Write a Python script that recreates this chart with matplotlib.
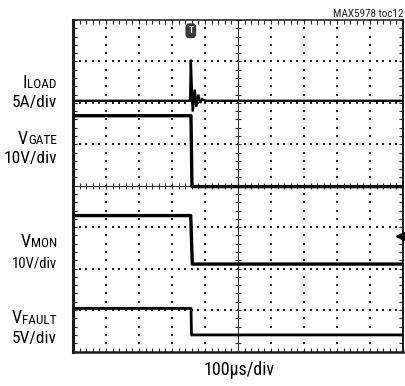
import numpy as np
import matplotlib
matplotlib.use("Agg")
import matplotlib.pyplot as plt
from matplotlib import font_manager

# ---------------- data (time in µs, trace position in screen divisions) -------------
iload_t = [0, 355.0, 357.0, 362.7, 368.8, 373.6, 379.7, 385.8, 391.8, 400.0, 1000]
iload_y = [6.05, 6.05, 7.04, 5.79, 6.32, 5.91, 6.20, 6.00, 6.09, 6.05, 6.05]

vgate_t = [0, 357.5, 360.5, 1000]
vgate_y = [5.69, 5.69, 3.98, 3.98]

vmon_t = [0, 356.7, 361.5, 1000]
vmon_y = [3.28, 3.28, 2.11, 2.11]

vfault_t = [0, 357.6, 359.0, 1000]
vfault_y = [1.04, 1.04, 0.40, 0.40]

trigger_time = 357.0
trigger_level = 2.79

n_xdiv, n_ydiv = 10, 8
us_per_div = 100

labels = [  # (main, small, scale, y_pixel_main, y_pixel_scale, scale_size)
    ("I", "LOAD", "5A/div", 88, 107, 12.5),
    ("V", "GATE", "10V/div", 144, 163, 12.5),
    ("V", "MON", "10V/div", 247, 268, 10.5),
    ("V", "FAULT", "5V/div", 323, 343, 12.5),
]
xlabel = "100µs/div"
tag = "MAX5978 toc12"

# ---------------- fonts ----------------
avail = {f.name for f in font_manager.fontManager.ttflist}
fam = "DejaVu Sans"
for cand in ["Liberation Sans Narrow", "Roboto Condensed", "Arial Narrow", "Liberation Sans"]:
    if cand in avail:
        fam = cand
        break
plt.rcParams["font.family"] = [fam, "DejaVu Sans"]

W, H = 406, 386
fig = plt.figure(figsize=(W / 100, H / 100), dpi=100)
L, R, T, B = 73, 403, 20, 351.5
ax = fig.add_axes([L / W, 1 - B / H, (R - L) / W, (B - T) / H])
ax.set_xlim(0, n_xdiv * us_per_div)
ax.set_ylim(0, n_ydiv)

# border ticks
ax.set_xticks(np.arange(0, n_xdiv + 1) * us_per_div)
ax.set_xticks(np.arange(0, n_xdiv * 5 + 1) * us_per_div / 5, minor=True)
ax.set_yticks(np.arange(0, n_ydiv + 1))
ax.set_yticks(np.arange(0, n_ydiv * 5 + 1) / 5, minor=True)
ax.tick_params(which="both", direction="in", length=3, width=0.8, top=True, right=True,
               labelbottom=False, labelleft=False, colors="#222222")
for side, lw in [("left", 2.2), ("bottom", 1.8), ("top", 1.1), ("right", 1.4)]:
    ax.spines[side].set_linewidth(lw)
    ax.spines[side].set_color("#1a1a1a")

# dotted graticule
sub_x = np.arange(0, n_xdiv * 5 + 1) * us_per_div / 5
sub_y = np.arange(0, n_ydiv * 5 + 1) / 5
for gx in range(1, n_xdiv):
    if gx == n_xdiv // 2:
        continue
    ax.scatter(np.full_like(sub_y, gx * us_per_div), sub_y, s=1.6, marker="s", c="#222222",
               linewidths=0, zorder=1)
for gy in range(1, n_ydiv):
    if gy == n_ydiv // 2:
        continue
    ax.scatter(sub_x, np.full_like(sub_x, gy), s=1.6, marker="s", c="#222222",
               linewidths=0, zorder=1)

# centre crosshair with ticks
cx, cy = n_xdiv // 2 * us_per_div, n_ydiv // 2
ax.axvline(cx, color="#333333", lw=0.8, zorder=1)
ax.axhline(cy, color="#333333", lw=0.8, zorder=1)
ax.plot(sub_x, np.full_like(sub_x, cy), ls="none", marker="|", ms=5, mew=0.8,
        color="#333333", zorder=1)
ax.plot(np.full_like(sub_y, cx), sub_y, ls="none", marker="_", ms=5, mew=0.8,
        color="#333333", zorder=1)

# traces
ax.plot(iload_t, iload_y, color="black", lw=1.7, zorder=3, solid_joinstyle="miter")
ax.plot(vgate_t, vgate_y, color="black", lw=2.4, zorder=3)
ax.plot(vmon_t, vmon_y, color="black", lw=2.4, zorder=3)
ax.plot(vfault_t, vfault_y, color="black", lw=2.0, zorder=3)

# trigger markers
ax.text(trigger_time, 7.74, "T", ha="center", va="center", fontsize=6.5, color="white",
        fontweight="bold", zorder=4,
        bbox=dict(boxstyle="round,pad=0.25,rounding_size=0.35", fc="#3a3a3a", ec="#3a3a3a"))
ax.plot([n_xdiv * us_per_div - 8], [trigger_level], marker="<", ms=5.5, color="black",
        clip_on=False, zorder=4)

# labels
fig.canvas.draw()
rend = fig.canvas.get_renderer()
xr = 57 / W
for main, small, scale, ym, ys, ss in labels:
    t_small = fig.text(xr, 1 - (ym + 0.5) / H, small, ha="right", va="baseline", fontsize=9.5)
    bb = t_small.get_window_extent(renderer=rend)
    fig.text((bb.x0 - 0.3) / W, 1 - ym / H, main, ha="right", va="baseline", fontsize=13)
    fig.text(xr, 1 - ys / H, scale, ha="right", va="baseline", fontsize=ss)

fig.text(239 / W, 1 - 375 / H, xlabel, ha="center", va="baseline", fontsize=13)
fig.text(404 / W, 1 - 17 / H, tag, ha="right", va="baseline", fontsize=8, color="#222222")

fig.savefig("out.png", dpi=100)
